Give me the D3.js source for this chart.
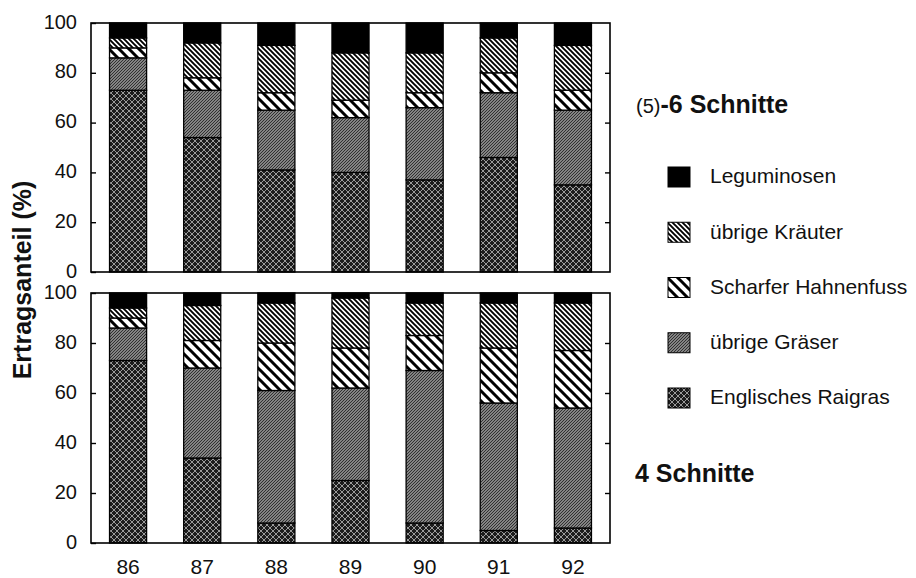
<!DOCTYPE html>
<html>
<head>
<meta charset="utf-8">
<script src="https://cdn.jsdelivr.net/npm/d3@7"></script>
<style>
  html, body { margin: 0; padding: 0; background: #fff; }
  svg { display: block; font-family: "Liberation Sans", Arial, Helvetica, sans-serif; }
</style>
</head>
<body>
<svg id="chart" width="916" height="578"></svg>
<script>
// ---------- DATA ----------
const years = ["86", "87", "88", "89", "90", "91", "92"];
const seriesKeys = ["raigras", "graeser", "hahnen", "kraeuter", "legum"];
const seriesLabels = ["Englisches Raigras", "übrige Gräser", "Scharfer Hahnenfuss", "übrige Kräuter", "Leguminosen"];
const yTicks = [0, 20, 40, 60, 80, 100];

// (5)-6 Schnitte (top panel)
const raigras6  = [73, 54, 41, 40, 37, 46, 35];
const graeser6  = [13, 19, 24, 22, 29, 26, 30];
const hahnen6   = [4, 5, 7, 7, 6, 8, 8];
const kraeuter6 = [4, 14, 19, 19, 16, 14, 18];
const legum6    = [6, 8, 9, 12, 12, 6, 9];

// 4 Schnitte (bottom panel)
const raigras4  = [73, 34, 8, 25, 8, 5, 6];
const graeser4  = [13, 36, 53, 37, 61, 51, 48];
const hahnen4   = [4, 11, 19, 16, 14, 22, 23];
const kraeuter4 = [4, 14, 16, 20, 13, 18, 19];
const legum4    = [6, 5, 4, 2, 4, 4, 4];

const panelTitle6 = ["(5)", "-6 Schnitte"];
const panelTitle4 = "4 Schnitte";
const yTitle = "Ertragsanteil (%)";

// ---------- BUILD ----------
function rowsOf(a, b, c, d, e) {
  return years.map((yr, i) => ({ year: yr, raigras: a[i], graeser: b[i], hahnen: c[i], kraeuter: d[i], legum: e[i] }));
}
const rows6 = rowsOf(raigras6, graeser6, hahnen6, kraeuter6, legum6);
const rows4 = rowsOf(raigras4, graeser4, hahnen4, kraeuter4, legum4);

const svg = d3.select("#chart");
const defs = svg.append("defs");

// patterns
function diagTile(id, s, bg, stroke, sw, dir) {
  const p = defs.append("pattern").attr("id", id).attr("patternUnits", "userSpaceOnUse")
    .attr("width", s).attr("height", s);
  p.append("rect").attr("width", s).attr("height", s).attr("fill", bg);
  let d;
  if (dir === "back") { // "\"
    d = `M0,0 L${s},${s} M${-s/2},${s/2} L${s/2},${s*1.5} M${s/2},${-s/2} L${s*1.5},${s/2}`;
  } else { // "/"
    d = `M0,${s} L${s},0 M${-s/2},${s/2} L${s/2},${-s/2} M${s/2},${s*1.5} L${s*1.5},${s/2}`;
  }
  p.append("path").attr("d", d).attr("stroke", stroke).attr("stroke-width", sw).attr("fill", "none");
  return p;
}
diagTile("pKraeuter", 5, "#fff", "#000", 1.9, "back");
diagTile("pHahnen", 10, "#fff", "#000", 3.0, "back");
diagTile("pGraeser", 3, "#a8a8a8", "#2a2a2a", 1.1, "fwd");
(function () {
  const s = 6;
  const p = defs.append("pattern").attr("id", "pRaigras").attr("patternUnits", "userSpaceOnUse")
    .attr("width", s).attr("height", s);
  p.append("rect").attr("width", s).attr("height", s).attr("fill", "#1c1c1c");
  p.append("path").attr("d", `M0,0 L${s},${s} M0,${s} L${s},0`)
    .attr("stroke", "#9a9a9a").attr("stroke-width", 1.0).attr("fill", "none");
})();

const fills = { raigras: "url(#pRaigras)", graeser: "url(#pGraeser)", hahnen: "url(#pHahnen)", kraeuter: "url(#pKraeuter)", legum: "#000" };

const x = d3.scaleBand().domain(years).range([91, 610]).paddingInner(0.5).paddingOuter(0.25);
const stack = d3.stack().keys(seriesKeys);

const panels = [
  { rows: rows6, y: d3.scaleLinear().domain([0, 100]).range([272, 23]) },
  { rows: rows4, y: d3.scaleLinear().domain([0, 100]).range([543, 293]) }
];

panels.forEach((pan, pi) => {
  const y = pan.y;
  const g = svg.append("g");
  const series = stack(pan.rows);
  g.selectAll("g.series").data(series).join("g").attr("class", "series")
    .attr("fill", d => fills[d.key])
    .selectAll("rect").data(d => d).join("rect")
    .attr("x", d => x(d.data.year))
    .attr("width", x.bandwidth())
    .attr("y", d => y(d[1]))
    .attr("height", d => y(d[0]) - y(d[1]))
    .attr("stroke", "#000").attr("stroke-width", 1.3);

  // frame
  const [r0, r1] = x.range();
  g.append("rect").attr("x", r0).attr("y", y(100)).attr("width", r1 - r0).attr("height", y(0) - y(100))
    .attr("fill", "none").attr("stroke", "#000").attr("stroke-width", 1.6);

  // left axis
  const la = g.append("g").attr("transform", `translate(${r0},0)`)
    .call(d3.axisLeft(y).tickValues(yTicks).tickSizeInner(-5).tickSizeOuter(0).tickPadding(14));
  la.select(".domain").remove();
  la.selectAll("text").attr("font-size", 20).attr("fill", "#111").attr("font-family", "Liberation Sans, Arial, sans-serif").attr("dy", "0.25em");
  la.selectAll("line").attr("stroke-width", 1.4);

  // right axis (ticks only, inward)
  const ra = g.append("g").attr("transform", `translate(${r1},0)`)
    .call(d3.axisRight(y).tickValues(yTicks.slice(1, -1)).tickSizeInner(-5).tickSizeOuter(0).tickFormat(""));
  ra.select(".domain").remove();
  ra.selectAll("line").attr("stroke-width", 1.4);

  if (pi === 1) {
    const xa = g.append("g").attr("transform", `translate(0,${y(0)})`)
      .call(d3.axisBottom(x).tickSize(0).tickPadding(16));
    xa.select(".domain").remove();
    xa.selectAll("text").attr("font-size", 21).attr("fill", "#111").attr("font-family", "Liberation Sans, Arial, sans-serif");
  }
});

// y title
svg.append("text").attr("transform", "translate(31,280) rotate(-90)")
  .attr("text-anchor", "middle").attr("font-size", 25).attr("font-weight", "bold").attr("fill", "#111")
  .text(yTitle);

// panel titles
const t6 = svg.append("text").attr("x", 636).attr("y", 113).attr("fill", "#111");
t6.append("tspan").attr("font-size", 20).text(panelTitle6[0]);
t6.append("tspan").attr("font-size", 25).attr("font-weight", "bold").text(panelTitle6[1]);

svg.append("text").attr("x", 635).attr("y", 482).attr("fill", "#111")
  .attr("font-size", 25).attr("font-weight", "bold").text(panelTitle4);

// legend (top to bottom: Leguminosen ... Raigras)
const legendOrder = seriesKeys.slice().reverse();
const legendLabels = seriesLabels.slice().reverse();
const lg = svg.append("g");
legendOrder.forEach((k, i) => {
  const cy = 177 + i * 55.25;
  lg.append("rect").attr("x", 668).attr("y", cy - 10).attr("width", 22).attr("height", 20)
    .attr("fill", fills[k]).attr("stroke", "#000").attr("stroke-width", 1);
  lg.append("text").attr("x", 710).attr("y", cy).attr("dy", "0.3em")
    .attr("font-size", 21).attr("fill", "#111").text(legendLabels[i]);
});
</script>
</body>
</html>
